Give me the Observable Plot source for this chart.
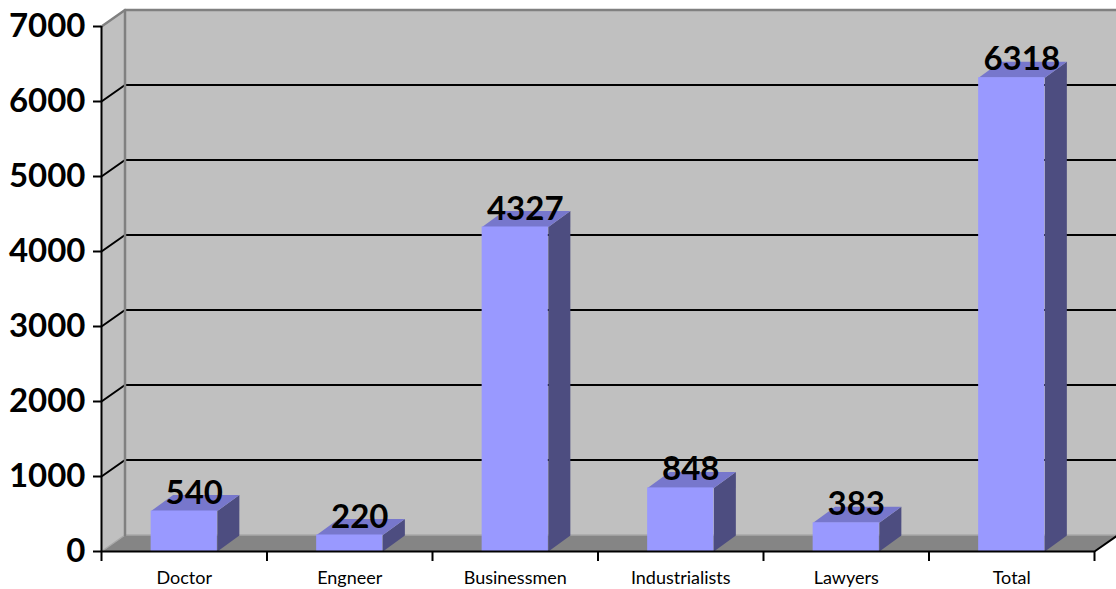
<!DOCTYPE html>
<html><head><meta charset="utf-8">
<script src="https://cdn.jsdelivr.net/npm/d3@7"></script>
<script src="https://cdn.jsdelivr.net/npm/@observablehq/plot@0.6"></script>
<style>body{margin:0;background:#fff;}</style>
</head><body><div id="chart"></div>
<script>
const categories = ["Doctor","Engneer","Businessmen","Industrialists","Lawyers","Total"];
const values = [540,220,4327,848,383,6318];
const yTicks = [0,1000,2000,3000,4000,5000,6000,7000];

const W=1116, H=589, mL=101, mR=22, mT=26, mB=38;
const yMax=7000;
const n=categories.length;
const kx=(W-mL-mR)/n, ky=(H-mT-mB)/yMax;
const wallDx=23.5/kx, wallDy=16.5/ky;
const barDx=22/kx, barDy=16/ky;
const barPad=0.3;

const bars = categories.map((c,i)=>({c, v: values[i], x1:i+barPad, x2:i+1-barPad}));
function poly(id, pts){return pts.map(([x,y])=>({id,x,y}));}
const sides = bars.flatMap(b=>poly(b.c, [[b.x2,0],[b.x2+barDx,barDy],[b.x2+barDx,b.v+barDy],[b.x2,b.v]]));
const tops = bars.flatMap(b=>poly(b.c, [[b.x1,b.v],[b.x2,b.v],[b.x2+barDx,b.v+barDy],[b.x1+barDx,b.v+barDy]]));
const backWall = poly("back", [[wallDx,wallDy],[n+wallDx,wallDy],[n+wallDx,yMax+wallDy],[wallDx,yMax+wallDy]]);
const leftWall = poly("left", [[0,0],[wallDx,wallDy],[wallDx,yMax+wallDy],[0,yMax]]);
const floor = poly("floor", [[0,0],[n,0],[n+wallDx,wallDy],[wallDx,wallDy]]);
const grid = yTicks.filter(v=>v>0&&v<yMax).flatMap(v=>poly(v, [[0,v],[wallDx,v+wallDy],[n+wallDx,v+wallDy]]));
const rim = poly("rim", [[0,yMax],[wallDx,yMax+wallDy],[n+wallDx,yMax+wallDy]]);
const wallEdge = poly("edge", [[wallDx,wallDy],[wallDx,yMax+wallDy]]);
const floorBack = poly("fb", [[0,0],[wallDx,wallDy],[n+wallDx,wallDy]]);
const xAxisLine = poly("xa", [[0,0],[n,0],[n+wallDx,wallDy]]);

const lineOpts = (stroke, sw, fill="none") => ({x:"x", y:"y", z:"id", stroke, strokeWidth: sw, fill, curve:"linear"});

const chart = Plot.plot({
  width: W, height: H,
  marginLeft: mL, marginRight: mR, marginTop: mT, marginBottom: mB,
  style: {fontFamily: "Lato, 'Open Sans', sans-serif", background: "#fff", overflow: "visible"},
  x: {domain: [0, n]},
  y: {domain: [0, yMax]},
  marks: [
    Plot.line(backWall, lineOpts("none", 0, "#c0c0c0")),
    Plot.line(leftWall, lineOpts("none", 0, "#c0c0c0")),
    Plot.line(floor, lineOpts("none", 0, "#858585")),
    Plot.line(floorBack, lineOpts("#a8a8a8", 1.5)),
    Plot.line(grid, lineOpts("#000", 2)),
    Plot.line(rim, lineOpts("#808080", 2.5)),
    Plot.line(wallEdge, lineOpts("#808080", 2.5)),
    Plot.line(sides, lineOpts("none", 0, "#4d4d80")),
    Plot.line(tops, lineOpts("none", 0, "#7777cc")),
    Plot.rect(bars, {x1:"x1", x2:"x2", y1: 0, y2:"v", fill:"#9999ff"}),
    Plot.line(xAxisLine, lineOpts("#000", 2)),
    Plot.ruleX([0], {y1: 0, y2: yMax, stroke:"#000", strokeWidth: 2}),
    Plot.axisY({ticks: yTicks, tickSize: 8, tickPadding: 8, tickFormat: d => String(d), fontSize: 33, fontWeight: "bold", strokeWidth: 2, label: null, fill:"#000", stroke: "#000"}),
    Plot.axisX({ticks: d3.range(n+1), tickSize: 10, tickFormat: () => "", strokeWidth: 2, label: null, stroke: "#000"}),
    Plot.axisX({ticks: d3.range(n).map(i=>i+0.5), tickSize: 0, tickPadding: 20, tickFormat: d => categories[Math.floor(d)], fontSize: 18, label: null, fill:"#000"}),
    Plot.text(bars, {x: b=>(b.x1+b.x2)/2, y:"v", text: b=>String(b.v), dx: 10, dy: -18, fontSize: 33, fontWeight: "bold", fill:"#000"})
  ]
});
document.getElementById("chart").appendChild(chart);
</script>
</body></html>
